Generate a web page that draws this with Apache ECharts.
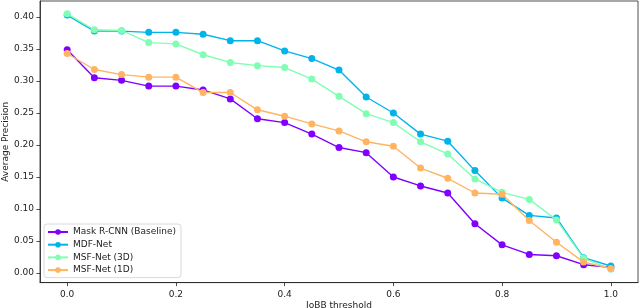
<!DOCTYPE html>
<html>
<head>
<meta charset="utf-8">
<script src="https://cdn.jsdelivr.net/npm/echarts@6/dist/echarts.min.js"></script>
<style>
html,body{margin:0;padding:0;background:#fff;}
#chart{width:640px;height:308px;}
</style>
</head>
<body>
<div id="chart"></div>
<script>
const thresholds = [0.00,0.05,0.10,0.15,0.20,0.25,0.30,0.35,0.40,0.45,0.50,0.55,0.60,0.65,0.70,0.75,0.80,0.85,0.90,0.95,1.00];
const maskRCNN = [0.349,0.305,0.301,0.292,0.292,0.286,0.272,0.241,0.235,0.217,0.196,0.188,0.150,0.136,0.125,0.077,0.044,0.029,0.027,0.013,0.009];
const mdfNet   = [0.403,0.378,0.378,0.376,0.376,0.373,0.363,0.363,0.347,0.335,0.317,0.275,0.250,0.217,0.206,0.160,0.117,0.090,0.086,0.024,0.011];
const msf3D    = [0.405,0.380,0.379,0.360,0.358,0.341,0.329,0.324,0.321,0.303,0.276,0.249,0.235,0.205,0.186,0.147,0.126,0.115,0.083,0.023,0.006];
const msf1D    = [0.343,0.318,0.310,0.306,0.306,0.282,0.282,0.255,0.245,0.233,0.222,0.205,0.198,0.164,0.148,0.125,0.123,0.082,0.048,0.017,0.007];
const xTicks = [0.0,0.2,0.4,0.6,0.8,1.0];
const yTicks = [0.00,0.05,0.10,0.15,0.20,0.25,0.30,0.35,0.40];
const seriesNames = ['Mask R-CNN (Baseline)','MDF-Net','MSF-Net (3D)','MSF-Net (1D)'];
const colors = ['#8000ff','#00b4eb','#80ffb4','#ffb462'];
const seriesValues = [maskRCNN, mdfNet, msf3D, msf1D];

const font = 'DejaVu Sans';
const fs = 9;
const chart = echarts.init(document.getElementById('chart'), null, {renderer:'canvas'});
chart.setOption({
  animation:false,
  backgroundColor:'#fff',
  grid:{left:40, right:2, top:1, bottom:25.4, containLabel:false, outerBoundsMode:'none',
    show:true, borderColor:'#222', borderWidth:0.8, backgroundColor:'transparent'},
  legend:{
    orient:'vertical', left:44, top:224,
    data:seriesNames,
    itemWidth:20, itemHeight:7, itemGap:1.7,
    padding:[2.5,5,2,3],
    borderColor:'#d0d0d0', borderWidth:0.8, borderRadius:3,
    backgroundColor:'rgba(255,255,255,0.8)',
    textStyle:{fontFamily:font, fontSize:fs, color:'#222', lineHeight:11}
  },
  xAxis:{
    type:'value', min:-0.05, max:1.05,
    name:'IoBB threshold', nameLocation:'middle', nameGap:19, nameMoveOverlap:false,
    nameTextStyle:{fontFamily:font, fontSize:fs, color:'#222'},
    axisLine:{show:true, onZero:false, lineStyle:{color:'#222', width:0.8}},
    axisTick:{show:true, length:3.5, lineStyle:{color:'#222', width:0.8}, customValues:xTicks},
    axisLabel:{customValues:xTicks, fontFamily:font, fontSize:fs, color:'#222', margin:8,
      formatter:v=>v.toFixed(1)},
    splitLine:{show:false}
  },
  yAxis:{
    type:'value', min:-0.015, max:0.425,
    name:'Average Precision', nameLocation:'middle', nameGap:30, nameRotate:90, nameMoveOverlap:false,
    nameTextStyle:{fontFamily:font, fontSize:fs, color:'#222'},
    axisLine:{show:true, onZero:false, lineStyle:{color:'#222', width:0.8}},
    axisTick:{show:true, length:3.5, lineStyle:{color:'#222', width:0.8}, customValues:yTicks},
    axisLabel:{customValues:yTicks, fontFamily:font, fontSize:fs, color:'#222', margin:6,
      formatter:v=>v.toFixed(2)},
    splitLine:{show:false}
  },
  series: seriesNames.map((n,i)=>({
    name:n, type:'line',
    data: thresholds.map((t,j)=>[t, seriesValues[i][j]]),
    symbol:'circle', symbolSize:7,
    lineStyle:{color:colors[i], width:1.4},
    itemStyle:{color:colors[i]},
    z: 2+i
  }))
});
</script>
</body>
</html>
